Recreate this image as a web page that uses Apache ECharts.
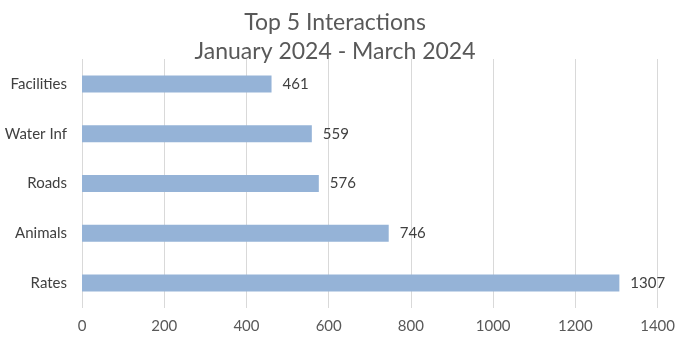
<!DOCTYPE html>
<html>
<head>
<meta charset="utf-8">
<script src="https://cdn.jsdelivr.net/npm/echarts@6/dist/echarts.min.js"></script>
<style>
  html, body { margin: 0; padding: 0; background: #fff; }
  #chart { width: 678px; height: 338px; }
</style>
</head>
<body>
<div id="chart"></div>
<script>
// top to bottom as shown
var categories = ["Facilities", "Water Inf", "Roads", "Animals", "Rates"];
var values = [461, 559, 576, 746, 1307];
var xTicks = [0, 200, 400, 600, 800, 1000, 1200, 1400];

var chart = echarts.init(document.getElementById("chart"));
chart.setOption({
  animation: false,
  textStyle: { fontFamily: "Lato" },
  title: {
    text: "Top 5 Interactions\nJanuary 2024 - March 2024",
    left: 330,
    textAlign: "center",
    top: 3,
    textStyle: {
      fontFamily: "Lato",
      fontWeight: "normal",
      fontSize: 23,
      lineHeight: 29,
      color: "#595959",
    },
  },
  grid: {
    left: 82,
    right: 15,
    top: 59,
    bottom: 30,
    containLabel: false,
  },
  xAxis: {
    type: "value",
    min: xTicks[0],
    max: xTicks[xTicks.length - 1],
    interval: 200,
    axisLine: { show: false },
    axisTick: { show: false },
    splitLine: { lineStyle: { color: "#d9d9d9", width: 1 } },
    axisLabel: {
      color: "#595959",
      fontSize: 15,
      margin: 11,
      formatter: function (v) { return String(v); },
    },
  },
  yAxis: {
    type: "category",
    data: categories,
    inverse: true,
    axisLine: { show: false },
    axisTick: { show: false },
    axisLabel: { color: "#404040", fontSize: 15, margin: 15 },
  },
  series: [
    {
      type: "bar",
      data: values,
      barWidth: 17,
      itemStyle: { color: "#95b3d7" },
      label: {
        show: true,
        position: "right",
        distance: 11,
        color: "#404040",
        fontSize: 15,
      },
    },
  ],
});
</script>
</body>
</html>
